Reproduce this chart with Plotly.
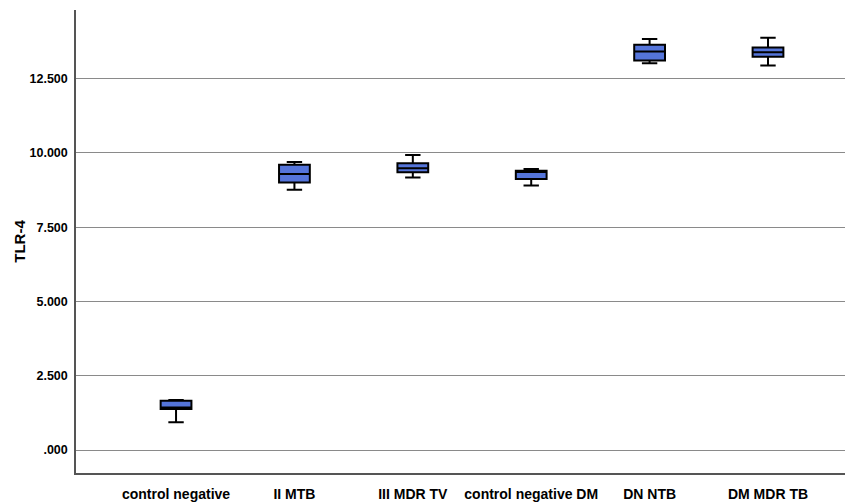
import plotly.graph_objects as go

categories = ["control negative", "II MTB", "III MDR TV", "control negative DM", "DN NTB", "DM MDR TB"]
lower_whisker = [0.93, 8.76, 9.17, 8.90, 13.02, 12.94]
q1_values = [1.38, 9.00, 9.35, 9.12, 13.11, 13.24]
median_values = [1.43, 9.29, 9.48, 9.36, 13.41, 13.39]
q3_values = [1.66, 9.60, 9.65, 9.40, 13.64, 13.55]
upper_whisker = [1.68, 9.69, 9.93, 9.46, 13.83, 13.88]

y_tickvals = [0, 2.5, 5, 7.5, 10, 12.5]
y_ticktext = [".000", "2.500", "5.000", "7.500", "10.000", "12.500"]

positions = list(range(len(categories)))

fig = go.Figure()
fig.add_trace(go.Box(
    x=positions,
    q1=q1_values,
    median=median_values,
    q3=q3_values,
    lowerfence=lower_whisker,
    upperfence=upper_whisker,
    fillcolor="#5575DA",
    line=dict(color="black", width=2),
    width=0.26,
    whiskerwidth=0.5,
    boxpoints=False,
    showlegend=False,
    hoverinfo="skip",
))

font_family = "Liberation Sans, Arial, sans-serif"

# page body has an 8px margin, so the figure is sized/offset to compensate
fig.update_layout(
    width=845,
    height=494,
    margin=dict(l=68, r=0, t=2, b=29),
    paper_bgcolor="white",
    plot_bgcolor="white",
    font=dict(family=font_family, color="black"),
    xaxis=dict(
        range=[-0.845, 5.718],
        tickmode="array",
        tickvals=positions,
        ticktext=["<b>%s</b>" % c for c in categories],
        tickfont=dict(size=14, family=font_family, color="black"),
        showgrid=False,
        zeroline=False,
        showline=True,
        linecolor="#555555",
        linewidth=1.5,
        ticks="outside",
        ticklen=7,
        tickcolor="rgba(0,0,0,0)",
    ),
    yaxis=dict(
        range=[-0.774, 14.81],
        tickmode="array",
        tickvals=y_tickvals,
        ticktext=["<b>%s</b>" % t for t in y_ticktext],
        tickfont=dict(size=12.5, family=font_family, color="black"),
        showgrid=True,
        gridcolor="#8a8a8a",
        gridwidth=1.3,
        zeroline=False,
        showline=True,
        linecolor="#555555",
        linewidth=1.5,
        ticks="outside",
        ticklen=4,
        tickcolor="rgba(0,0,0,0)",
        title=dict(text="<b>TLR-4</b>", font=dict(size=15, family=font_family, color="black"), standoff=0),
    ),
)

fig.write_html("out.html")
